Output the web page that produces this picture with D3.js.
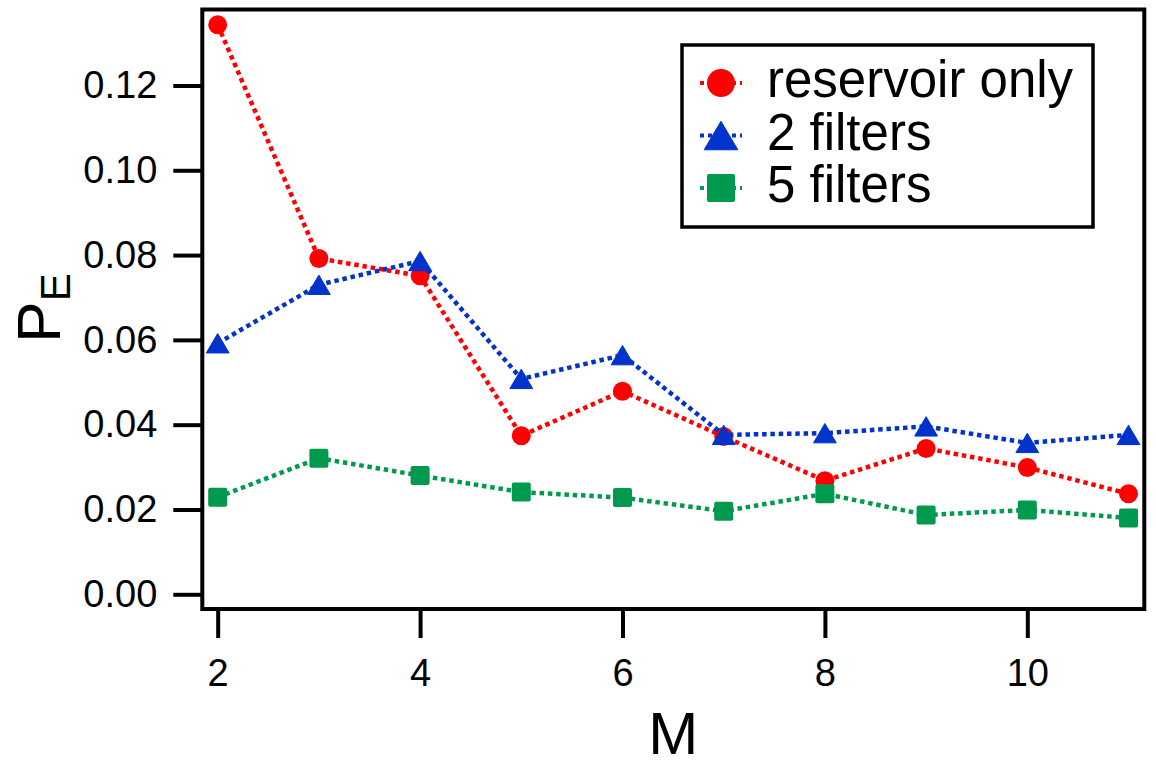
<!DOCTYPE html>
<html>
<head>
<meta charset="utf-8">
<script src="https://cdn.jsdelivr.net/npm/d3@7"></script>
<style>
  body { margin: 0; background: #fff; }
  svg { display: block; font-family: "Liberation Sans", Arial, Helvetica, sans-serif; }
</style>
</head>
<body>
<div id="chartContainer"></div>
<script>
//the data
var mValues = [2, 3, 4, 5, 6, 7, 8, 9, 10, 11];
var reservoirOnly = [0.1343, 0.0792, 0.0751, 0.0374, 0.0479, 0.0372, 0.0268, 0.0344, 0.0299, 0.0237];
var twoFilters = [0.0592, 0.0730, 0.0786, 0.0508, 0.0564, 0.0376, 0.0380, 0.0396, 0.0357, 0.0376];
var fiveFilters = [0.0229, 0.0321, 0.0280, 0.0241, 0.0228, 0.0196, 0.0237, 0.0187, 0.0199, 0.0180];
var seriesNames = ["reservoir only", "2 filters", "5 filters"];
var xTicks = [2, 4, 6, 8, 10];
var yTicks = [0, 0.02, 0.04, 0.06, 0.08, 0.10, 0.12];

var width = 1156, height = 763;

//plot frame edges (note: "top" is taken by window.top, so use a prefix)
var plotLeft = 202.3, plotRight = 1144.3, plotTop = 9.5, plotBottom = 609;

var svg = d3.select("#chartContainer").append("svg")
  .attr("width", width).attr("height", height);

//scales
var x = d3.scaleLinear().domain([1.848, 11.156]).range([plotLeft, plotRight]);
var y = d3.scaleLinear().domain([-0.00347, 0.13792]).range([plotBottom, plotTop]);

//series table built from the arrays above
var series = [
  { name: seriesNames[0], values: reservoirOnly, color: "#ff0000", shape: "circle" },
  { name: seriesNames[1], values: twoFilters, color: "#0033cc", shape: "triangle" },
  { name: seriesNames[2], values: fiveFilters, color: "#009a4e", shape: "square" }
];

//draws one marker of a given shape and size at (cx, cy)
function marker(g, shape, color, cx, cy, s) {
  if (shape === "circle") {
    g.append("circle").attr("cx", cx).attr("cy", cy).attr("r", s / 2).attr("fill", color);
  } else if (shape === "triangle") {
    var w = s * 1.2, h = s * 1.02;
    g.append("path")
      .attr("d", "M" + cx + "," + (cy - h / 2) + "L" + (cx + w / 2) + "," + (cy + h / 2) + "L" + (cx - w / 2) + "," + (cy + h / 2) + "Z")
      .attr("fill", color).attr("stroke", color).attr("stroke-width", 1).attr("stroke-linejoin", "round");
  } else {
    g.append("rect").attr("x", cx - s / 2).attr("y", cy - s / 2).attr("width", s).attr("height", s)
      .attr("rx", 2).attr("fill", color);
  }
}

//y axis with outward ticks
svg.append("g")
  .attr("transform", "translate(" + plotLeft + ",0)")
  .call(d3.axisLeft(y).tickValues(yTicks).tickSize(29).tickPadding(16).tickFormat(d3.format(".2f")))
  .call(function (g) {
    g.select(".domain").remove();
    g.attr("font-size", 38).attr("font-family", "'Liberation Sans', Arial, sans-serif");
    g.selectAll(".tick line").attr("stroke", "#000").attr("stroke-width", 4);
    g.selectAll(".tick text").attr("fill", "#000");
  });

//x axis with outward ticks
svg.append("g")
  .attr("transform", "translate(0," + plotBottom + ")")
  .call(d3.axisBottom(x).tickValues(xTicks).tickSize(29).tickPadding(21).tickFormat(d3.format("d")))
  .call(function (g) {
    g.select(".domain").remove();
    g.attr("font-size", 38).attr("font-family", "'Liberation Sans', Arial, sans-serif");
    g.selectAll(".tick line").attr("stroke", "#000").attr("stroke-width", 4);
    g.selectAll(".tick text").attr("fill", "#000");
  });

//dotted lines and markers for every series
var line = d3.line()
  .x(function (d, i) { return x(mValues[i]); })
  .y(function (d) { return y(d); });

series.forEach(function (s) {
  var g = svg.append("g");
  g.append("path")
    .attr("d", line(s.values))
    .attr("fill", "none")
    .attr("stroke", s.color)
    .attr("stroke-width", 4.5)
    .attr("stroke-dasharray", "4.5,3.8");
  s.values.forEach(function (v, i) {
    marker(g, s.shape, s.color, x(mValues[i]), y(v), 19);
  });
});

//plot frame
svg.append("rect")
  .attr("x", plotLeft).attr("y", plotTop)
  .attr("width", plotRight - plotLeft).attr("height", plotBottom - plotTop)
  .attr("fill", "none").attr("stroke", "#000").attr("stroke-width", 4);

//legend box
var legend = svg.append("g");
legend.append("rect")
  .attr("x", 682).attr("y", 45).attr("width", 411).attr("height", 182)
  .attr("fill", "#fff").attr("stroke", "#000").attr("stroke-width", 3.5);

series.forEach(function (s, i) {
  var baseY = 97 + i * 52.5;
  var cy = baseY - 14;
  legend.append("line")
    .attr("x1", 700).attr("x2", 742).attr("y1", cy).attr("y2", cy)
    .attr("stroke", s.color).attr("stroke-width", 4).attr("stroke-dasharray", "4,4");
  marker(legend, s.shape, s.color, 721, cy, 28);
  legend.append("text")
    .attr("x", 767).attr("y", baseY)
    .style("font-size", "51px")
    .text(s.name);
});

//axis titles
svg.append("text")
  .attr("x", (plotLeft + plotRight) / 2).attr("y", 754)
  .attr("text-anchor", "middle")
  .style("font-size", "60px")
  .text("M");

var yTitle = svg.append("text")
  .attr("transform", "translate(60,308) rotate(-90)")
  .attr("text-anchor", "middle");
yTitle.append("tspan").style("font-size", "62px").text("P");
yTitle.append("tspan").attr("dy", 10).style("font-size", "42px").text("E");
</script>
</body>
</html>
